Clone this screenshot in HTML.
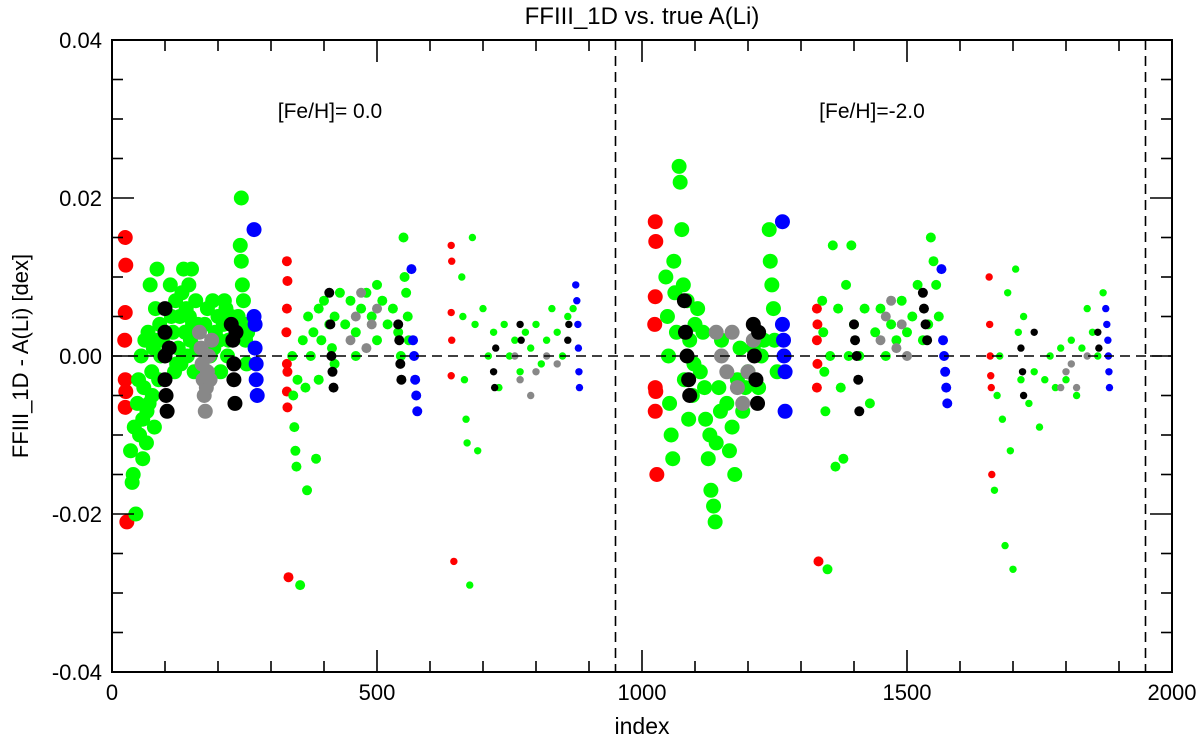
<!DOCTYPE html>
<html><head><meta charset="utf-8"><style>
html,body{margin:0;padding:0;background:#fff;}
svg{display:block;font-family:"Liberation Sans",sans-serif;}
</style></head><body>
<svg id="chart" width="1200" height="738" viewBox="0 0 1200 738">
<text x="642" y="24" font-size="24" text-anchor="middle">FFIII_1D vs. true A(Li)</text>
<text x="642" y="734" font-size="23" text-anchor="middle">index</text>
<text transform="translate(28,356) rotate(-90)" font-size="22" text-anchor="middle">FFIII_1D - A(Li) [dex]</text>
<text x="330" y="118" font-size="21" text-anchor="middle">[Fe/H]= 0.0</text>
<text x="872" y="118" font-size="21" text-anchor="middle">[Fe/H]=-2.0</text>
<g id="marks"></g>
<g id="axes"></g>
</svg>
<script>
const xTicks=[0,500,1000,1500,2000];
const xTickLabels=["0","500","1000","1500","2000"];
const yTicks=[-0.04,-0.02,0,0.02,0.04];
const yTickLabels=["-0.04","-0.02","0.00","0.02","0.04"];
const dividers=[950,1950];
const redPts=[[25,0.015],[26,0.0115],[25,0.0055],[24,0.002],[25,-0.003],[26,-0.0045],[25,-0.0065],[28,-0.021],
[330,0.012],[331,0.0095],[330,0.006],[329,0.003],[330,-0.001],[331,-0.002],[330,-0.0045],[331,-0.0065],[333,-0.028],
[640,0.014],[641,0.012],[640,0.0055],[641,0.002],[640,-0.0025],[645,-0.026],
[1025,0.017],[1026,0.0145],[1025,0.0075],[1024,0.004],[1025,-0.004],[1026,-0.0045],[1025,-0.007],[1028,-0.015],
[1330,0.006],[1331,0.004],[1330,0.002],[1331,-0.001],[1330,-0.004],[1333,-0.026],
[1655,0.01],[1656,0.004],[1657,0.0],[1658,-0.0025],[1659,-0.004],[1660,-0.015]];
const greenPts=[[35,-0.012],[38,-0.016],[40,-0.015],[42,-0.009],[45,-0.02],[48,-0.006],[50,-0.003],[52,-0.01],[55,0.0],[58,-0.008],[60,-0.004],[62,0.002],[65,-0.011],[68,0.003],[70,-0.006],[72,0.009],[75,-0.002],[78,0.001],[80,-0.009],[82,0.006],[85,0.011],[88,-0.003],[90,0.004],[92,0.0],[95,0.002],[110,0.009],[115,0.003],[118,-0.002],[120,0.007],[125,0.001],[128,0.005],[130,-0.001],[135,0.011],[138,0.003],[140,0.006],[142,0.0],[145,0.009],[148,0.002],[150,0.011],[152,0.004],[155,-0.002],[158,0.007],[160,0.001],[175,0.004],[180,0.006],[185,0.0],[190,0.007],[195,0.003],[200,0.005],[205,-0.002],[210,0.004],[215,0.006],[220,0.002],[225,0.005],[244,0.02],[242,0.014],[244,0.012],[246,0.009],[248,0.007],[250,0.004],[252,0.002],[254,-0.001],[256,0.003],
[58,-0.013],[66,-0.007],[76,-0.005],[86,0.002],[112,0.005],[122,-0.001],[132,0.008],[146,0.005],[162,0.004],[192,0.001],[202,0.002],[212,0.007],[218,0.0],[238,0.005],
[340,0.0],[342,-0.005],[344,-0.009],[346,-0.012],[348,-0.014],[350,-0.003],[355,-0.029],[360,0.002],[365,-0.004],[368,-0.017],[370,0.005],[375,0.0],[380,0.003],[385,-0.013],[390,0.006],[395,0.002],[400,0.007],[410,0.004],[415,0.001],[420,0.005],[430,0.008],[440,0.004],[450,0.007],[460,0.003],[470,0.006],[480,0.008],[490,0.005],[500,0.009],[510,0.007],[520,0.004],[530,0.006],[540,0.003],[550,0.015],[552,0.01],[555,0.008],[558,0.005],[560,0.002],[545,0.0],[500,0.002],[460,0.0],[420,-0.001],[390,-0.003],
[660,0.01],[662,0.005],[665,-0.003],[668,-0.008],[670,-0.011],[675,-0.029],[680,0.015],[685,0.004],[690,-0.012],[700,0.006],[710,0.0],[720,0.003],[730,-0.004],[740,0.004],[750,0.0],[760,0.002],[770,-0.002],[780,0.003],[790,0.001],[800,0.004],[810,-0.001],[820,0.002],[830,0.006],[840,0.003],[850,0.0],[860,0.005],[870,0.006],
[1045,0.01],[1048,0.005],[1050,0.0],[1052,-0.006],[1055,-0.01],[1058,-0.013],[1060,0.012],[1065,0.003],[1070,0.024],[1072,0.022],[1075,0.016],[1078,0.009],[1080,-0.003],[1085,0.007],[1088,-0.008],[1090,0.002],[1095,-0.005],[1100,0.004],[1110,-0.002],[1115,0.003],[1120,-0.008],[1125,-0.013],[1130,-0.017],[1135,-0.019],[1138,-0.021],[1140,-0.011],[1145,-0.004],[1150,0.002],[1160,-0.006],[1170,-0.009],[1175,-0.015],[1180,-0.003],[1185,0.001],[1190,-0.007],[1200,-0.002],[1210,0.001],[1220,-0.004],[1230,0.002],[1240,0.016],[1242,0.012],[1245,0.009],[1248,0.006],[1250,0.002],[1255,-0.002],
[1062,0.008],[1098,-0.001],[1105,0.006],[1118,-0.004],[1128,-0.01],[1148,-0.007],[1165,-0.012],[1195,-0.004],[1225,0.0],
[1340,0.007],[1342,0.003],[1344,-0.002],[1346,-0.007],[1350,-0.027],[1355,0.0],[1360,0.014],[1365,-0.014],[1370,0.006],[1375,-0.004],[1380,-0.013],[1385,0.009],[1390,0.0],[1395,0.014],[1400,0.004],[1410,0.0],[1420,0.006],[1430,-0.006],[1440,0.003],[1450,0.006],[1460,0.0],[1470,0.004],[1480,0.002],[1490,0.007],[1500,0.003],[1510,0.005],[1520,0.009],[1530,0.002],[1540,0.004],[1545,0.015],[1550,0.012],[1555,0.009],[1560,0.005],
[1665,-0.017],[1670,-0.005],[1675,0.0],[1680,-0.008],[1685,-0.024],[1690,0.008],[1695,-0.012],[1700,-0.027],[1705,0.011],[1710,0.003],[1715,-0.003],[1720,0.005],[1730,-0.006],[1740,-0.002],[1750,-0.009],[1760,-0.003],[1770,0.0],[1780,-0.004],[1790,0.001],[1800,-0.003],[1810,0.002],[1820,-0.005],[1830,0.001],[1840,0.006],[1850,0.003],[1860,0.0],[1870,0.008]];
const grayPts=[[165,0.003],[168,0.001],[170,-0.001],[172,-0.003],[174,-0.005],[176,-0.007],[178,-0.004],[180,-0.002],[182,0.0],[185,-0.003],[188,0.002],
[450,0.002],[460,0.005],[470,0.008],[480,0.001],[490,0.004],[500,0.006],
[760,0.0],[770,-0.003],[790,-0.005],[800,-0.002],[820,0.0],[840,-0.001],
[1140,0.003],[1150,0.0],[1160,-0.002],[1170,0.003],[1180,-0.004],[1190,-0.006],[1200,-0.002],[1210,0.002],
[1450,0.002],[1460,0.005],[1470,0.007],[1480,0.001],[1490,0.004],[1500,0.0],
[1790,-0.004],[1800,-0.002],[1810,-0.001],[1820,-0.004],[1840,0.0]];
const blackPts=[[100,0.006],[100,0.003],[100,0.0],[100,-0.003],[102,-0.005],[104,-0.007],[108,0.001],[225,0.004],[228,0.002],[230,-0.001],[230,-0.003],[232,-0.006],[234,0.003],
[410,0.008],[412,0.004],[414,0.0],[416,-0.002],[418,-0.004],[540,0.004],[542,0.002],[544,-0.001],[546,-0.003],
[720,-0.002],[722,-0.004],[724,0.001],[770,0.004],[772,0.002],[860,0.002],[862,0.004],
[1080,0.007],[1082,0.003],[1085,0.0],[1088,-0.003],[1090,-0.005],[1210,0.004],[1212,0.0],[1215,-0.003],[1218,-0.006],[1220,0.003],
[1400,0.004],[1402,0.002],[1405,0.0],[1408,-0.003],[1410,-0.007],[1530,0.008],[1532,0.006],[1535,0.004],[1538,0.002],
[1715,0.001],[1718,-0.002],[1720,-0.005],[1740,0.003],[1860,0.003],[1862,0.001]];
const bluePts=[[268,0.016],[268,0.005],[270,0.004],[270,0.001],[272,-0.001],[272,-0.003],[274,-0.005],
[565,0.011],[568,0.002],[570,0.0],[572,-0.003],[574,-0.005],[576,-0.007],
[875,0.009],[877,0.007],[879,0.004],[880,0.001],[881,-0.002],[882,-0.004],
[1265,0.017],[1265,0.004],[1267,0.002],[1268,0.0],[1270,-0.002],[1270,-0.007],
[1565,0.011],[1568,0.002],[1570,0.0],[1572,-0.002],[1574,-0.004],[1576,-0.006],
[1875,0.006],[1877,0.004],[1879,0.002],[1880,0.0],[1881,-0.002],[1882,-0.004]];

const L=112,R=1172,T=40,B=672,X0=0,X1=2000,Y0=-0.04,Y1=0.04;
const sx=v=>L+(v-X0)/(X1-X0)*(R-L);
const sy=v=>B-(v-Y0)/(Y1-Y0)*(B-T);
const NS="http://www.w3.org/2000/svg";
function mk(tag,attrs,parent){const e=document.createElementNS(NS,tag);for(const k in attrs)e.setAttribute(k,attrs[k]);parent.appendChild(e);return e;}
function rad(x){const m=x%1000; if(m<300) return 7.5; if(m<600) return 5; return 3.7;}
const marks=document.getElementById('marks');
const series=[["red",redPts,"#f00"],["green",greenPts,"#0f0"],["gray",grayPts,"#888"],["black",blackPts,"#000"],["blue",bluePts,"#00f"]];
series.forEach(([nm,pts,col])=>{
  const g=mk('g',{},marks);
  
  
  pts.forEach(p=>{
    const c=mk('circle',{cx:sx(p[0]),cy:sy(p[1]),r:rad(p[0]),fill:col},g);
    
    
  });
});
const ax=document.getElementById('axes');
const zl=mk('line',{x1:L,x2:R,y1:sy(0),y2:sy(0),stroke:'#000','stroke-width':1.6,'stroke-dasharray':'10,6'},ax);


dividers.forEach(d=>{
  const l=mk('line',{x1:sx(d),x2:sx(d),y1:T,y2:B,stroke:'#000','stroke-width':1.6,'stroke-dasharray':'10,6'},ax);
  
  
});
const fr=mk('rect',{x:L,y:T,width:R-L,height:B-T,fill:'none',stroke:'#000','stroke-width':2},ax);


for(let v=0;v<=2000;v+=100){
  const major=v%500===0, len=major?22:11, x=sx(v);
  mk('line',{x1:x,x2:x,y1:B,y2:B-len,stroke:'#000','stroke-width':1.6},ax);
  mk('line',{x1:x,x2:x,y1:T,y2:T+len,stroke:'#000','stroke-width':1.6},ax);
}
for(let i=0;i<=16;i++){
  const v=-0.04+i*0.005, major=i%4===0, len=major?22:11, y=sy(v);
  mk('line',{x1:L,x2:L+len,y1:y,y2:y,stroke:'#000','stroke-width':1.6},ax);
  mk('line',{x1:R,x2:R-len,y1:y,y2:y,stroke:'#000','stroke-width':1.6},ax);
}
xTicks.forEach((v,i)=>{
  const t=mk('text',{x:sx(v),y:B+28,'font-size':22,'text-anchor':'middle'},ax);
  t.textContent=xTickLabels[i];
  
  
});
yTicks.forEach((v,i)=>{
  const t=mk('text',{x:L-10,y:sy(v)+8,'font-size':22,'text-anchor':'end'},ax);
  t.textContent=yTickLabels[i];
  
  
});
</script>
</body></html>
